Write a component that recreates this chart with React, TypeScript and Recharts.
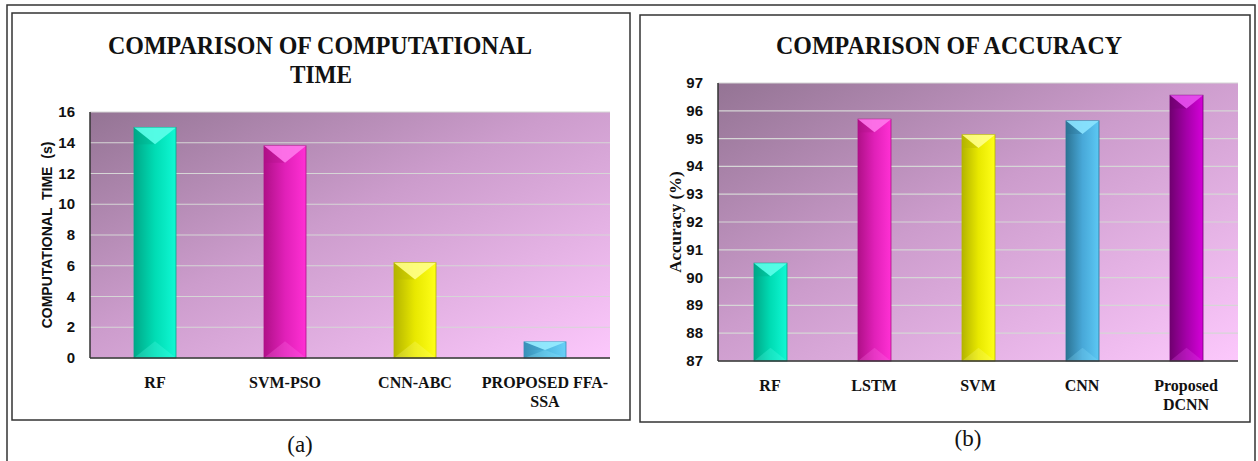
import React from 'react';
import { BarChart, Bar, XAxis, YAxis, CartesianGrid, Cell } from 'recharts';

// (a) computational time in seconds
const timeCategories = ['RF', 'SVM-PSO', 'CNN-ABC', 'PROPOSED FFA-\nSSA'];
const timeValues = [15, 13.8, 6.2, 1.05];
const timeTicks = [0, 2, 4, 6, 8, 10, 12, 14, 16];
const timeColors = ['teal', 'magenta', 'yellow', 'sky'];

// (b) accuracy in percent
const accuracyCategories = ['RF', 'LSTM', 'SVM', 'CNN', 'Proposed\nDCNN'];
const accuracyValues = [90.52, 95.7, 95.14, 95.64, 96.56];
const accuracyTicks = [87, 88, 89, 90, 91, 92, 93, 94, 95, 96, 97];
const accuracyColors = ['teal', 'magenta', 'yellow', 'steel', 'purple'];

const palette: Record<string, { left: string; mid: string; right: string; cap: string }> = {
  teal: { left: '#00a888', mid: '#00dcb4', right: '#10f8d4', cap: '#5cffea' },
  magenta: { left: '#b01088', mid: '#e020b8', right: '#ff30d4', cap: '#ff78ec' },
  yellow: { left: '#b4b400', mid: '#e8e800', right: '#ffff18', cap: '#ffff88' },
  sky: { left: '#3890b8', mid: '#50b8e0', right: '#68d0f8', cap: '#98ecff' },
  steel: { left: '#2c7494', mid: '#48a8d8', right: '#5cc8f4', cap: '#8ce4ff' },
  purple: { left: '#700070', mid: '#a400a8', right: '#d400d8', cap: '#e850f0' },
};

const serif = '"Liberation Serif", "Times New Roman", serif';
const sans = '"Liberation Sans", Arial, sans-serif';

const toRows = (names: string[], values: number[]) =>
  names.map((name, i) => ({ name, value: values[i] }));

function Defs({ prefix, keys }: { prefix: string; keys: string[] }) {
  return (
    <defs>
      <linearGradient id={`${prefix}-bg`} x1="0" y1="0" x2="1" y2="1">
        <stop offset="0%" stopColor="#947494" />
        <stop offset="45%" stopColor="#cc9ccc" />
        <stop offset="100%" stopColor="#fcc8fc" />
      </linearGradient>
      {keys.map((k) => (
        <linearGradient key={k} id={`${prefix}-${k}`} x1="0" y1="0" x2="1" y2="0">
          <stop offset="0%" stopColor={palette[k].left} />
          <stop offset="50%" stopColor={palette[k].mid} />
          <stop offset="100%" stopColor={palette[k].right} />
        </linearGradient>
      ))}
    </defs>
  );
}

function BevelBar(props: any) {
  const { x, y, width: w, height: h, index, colors, prefix } = props;
  if (!h || h <= 0) return null;
  const c = palette[colors[index]];
  const d = Math.min(w * 0.4, h / 2);
  const b = Math.min(w * 0.4, h / 2);
  return (
    <g>
      <rect x={x} y={y} width={w} height={h} fill={`url(#${prefix}-${colors[index]})`} stroke={c.left} strokeWidth={0.8} />
      {/* top bevel: dark left facet, light centre wedge */}
      <polygon points={`${x},${y} ${x + w / 2},${y + d} ${x},${y + d}`} fill={c.left} opacity={0.35} />
      <polygon points={`${x},${y} ${x + w},${y} ${x + w / 2},${y + d}`} fill={c.cap} opacity={0.9} />
      {/* bottom bevel */}
      <polygon points={`${x},${y + h} ${x + w},${y + h} ${x + w / 2},${y + h - b}`} fill={c.cap} opacity={0.25} />
    </g>
  );
}

function CategoryTick(props: any) {
  const { x, y, payload } = props;
  const lines = String(payload.value).split('\n');
  return (
    <text x={x} y={y + 28} textAnchor="middle" fontFamily={serif} fontWeight="bold" fontSize={16} fill="#111">
      {lines.map((l, i) => (
        <tspan key={i} x={x} dy={i === 0 ? 0 : 19}>{l}</tspan>
      ))}
    </text>
  );
}

function ValueTick(props: any) {
  const { x, y, payload } = props;
  return (
    <text x={x} y={y} dy={5} textAnchor="end" fontFamily={sans} fontWeight="bold" fontSize={15} fill="#111">
      {payload.value}
    </text>
  );
}

function SideLabel({ viewBox, text, dx, font, size }: any) {
  const cx = viewBox.x + dx;
  const cy = viewBox.y + viewBox.height / 2;
  return (
    <text x={cx} y={cy} transform={`rotate(-90 ${cx} ${cy})`} textAnchor="middle" dominantBaseline="central"
      fontFamily={font} fontWeight="bold" fontSize={size} fill="#111" style={{ whiteSpace: 'pre' }}>
      {text}
    </text>
  );
}

type PanelProps = {
  prefix: string;
  data: { name: string; value: number }[];
  colors: string[];
  ticks: number[];
  domain: [number, number];
  width: number;
  height: number;
  margin: { top: number; right: number; bottom: number; left: number };
  barSize: number;
  label: React.ReactNode;
};

function Panel({ prefix, data, colors, ticks, domain, width, height, margin, barSize, label }: PanelProps) {
  return (
    <BarChart width={width} height={height} data={data} margin={margin}>
      <Defs prefix={prefix} keys={colors} />
      <CartesianGrid vertical={false} stroke="#d6d6d6" strokeWidth={1.2} fill={`url(#${prefix}-bg)`} fillOpacity={1} />
      <XAxis dataKey="name" tick={<CategoryTick />} tickLine={false} tickSize={0} interval={0} height={50}
        axisLine={{ stroke: '#333', strokeWidth: 1.5 }} />
      <XAxis xAxisId="top" dataKey="name" orientation="top" tick={false} tickLine={false} height={0}
        axisLine={{ stroke: '#333', strokeWidth: 1.5 }} />
      <YAxis domain={domain} ticks={ticks} interval={0} tick={<ValueTick />} tickLine={false} tickSize={0} tickMargin={15}
        width={78} axisLine={{ stroke: '#333', strokeWidth: 1.5 }} label={label as any} />
      <YAxis yAxisId="right" orientation="right" tick={false} tickLine={false} width={0}
        axisLine={{ stroke: '#333', strokeWidth: 1.5 }} />
      <Bar dataKey="value" barSize={barSize} isAnimationActive={false}
        shape={(p: any) => <BevelBar {...p} colors={colors} prefix={prefix} />}>
        {data.map((_, i) => (
          <Cell key={i} fill={palette[colors[i]].mid} />
        ))}
      </Bar>
    </BarChart>
  );
}

export default function App() {
  const timeData = toRows(timeCategories, timeValues);
  const accuracyData = toRows(accuracyCategories, accuracyValues);
  return (
    <div style={{ position: 'absolute', left: 0, top: 0, width: 1258, height: 461, background: '#fff', overflow: 'hidden' }}>
      <svg width={1258} height={461} style={{ position: 'absolute', left: 0, top: 0 }}>
        <rect x={7} y={5} width={1248} height={470} fill="none" stroke="#333" strokeWidth={1.5} />
        <rect x={12} y={13} width={618} height={407} fill="none" stroke="#333" strokeWidth={1.5} />
        <rect x={640} y={15} width={610} height={407} fill="none" stroke="#333" strokeWidth={1.5} />
        <g fontFamily={serif} fontWeight="bold" fill="#111" fontSize={26}>
          <text x={108} y={54} textLength={424} lengthAdjust="spacingAndGlyphs">COMPARISON OF COMPUTATIONAL</text>
          <text x={290} y={83} textLength={62} lengthAdjust="spacingAndGlyphs">TIME</text>
          <text x={776} y={54} textLength={346} lengthAdjust="spacingAndGlyphs">COMPARISON OF ACCURACY</text>
        </g>
        <g fontFamily={serif} fill="#111" fontSize={23} textAnchor="middle">
          <text x={300} y={452}>(a)</text>
          <text x={968} y={446}>(b)</text>
        </g>
      </svg>
      <div style={{ position: 'absolute', left: 12, top: 13 }}>
        <Panel
          prefix="time"
          data={timeData}
          colors={timeColors}
          ticks={timeTicks}
          domain={[0, 16]}
          width={618}
          height={407}
          margin={{ top: 99, right: 20, bottom: 12, left: 0 }}
          barSize={42}
          label={{
            content: (p: any) => (
              <SideLabel {...p} text="COMPUTATIONAL  TIME  (s)" dx={35} font={sans} size={14} />
            ),
          }}
        />
      </div>
      <div style={{ position: 'absolute', left: 640, top: 15 }}>
        <Panel
          prefix="acc"
          data={accuracyData}
          colors={accuracyColors}
          ticks={accuracyTicks}
          domain={[87, 97]}
          width={610}
          height={407}
          margin={{ top: 68, right: 12, bottom: 11, left: 0 }}
          barSize={33}
          label={{
            content: (p: any) => <SideLabel {...p} text="Accuracy (%)" dx={35} font={serif} size={17} />,
          }}
        />
      </div>
    </div>
  );
}
